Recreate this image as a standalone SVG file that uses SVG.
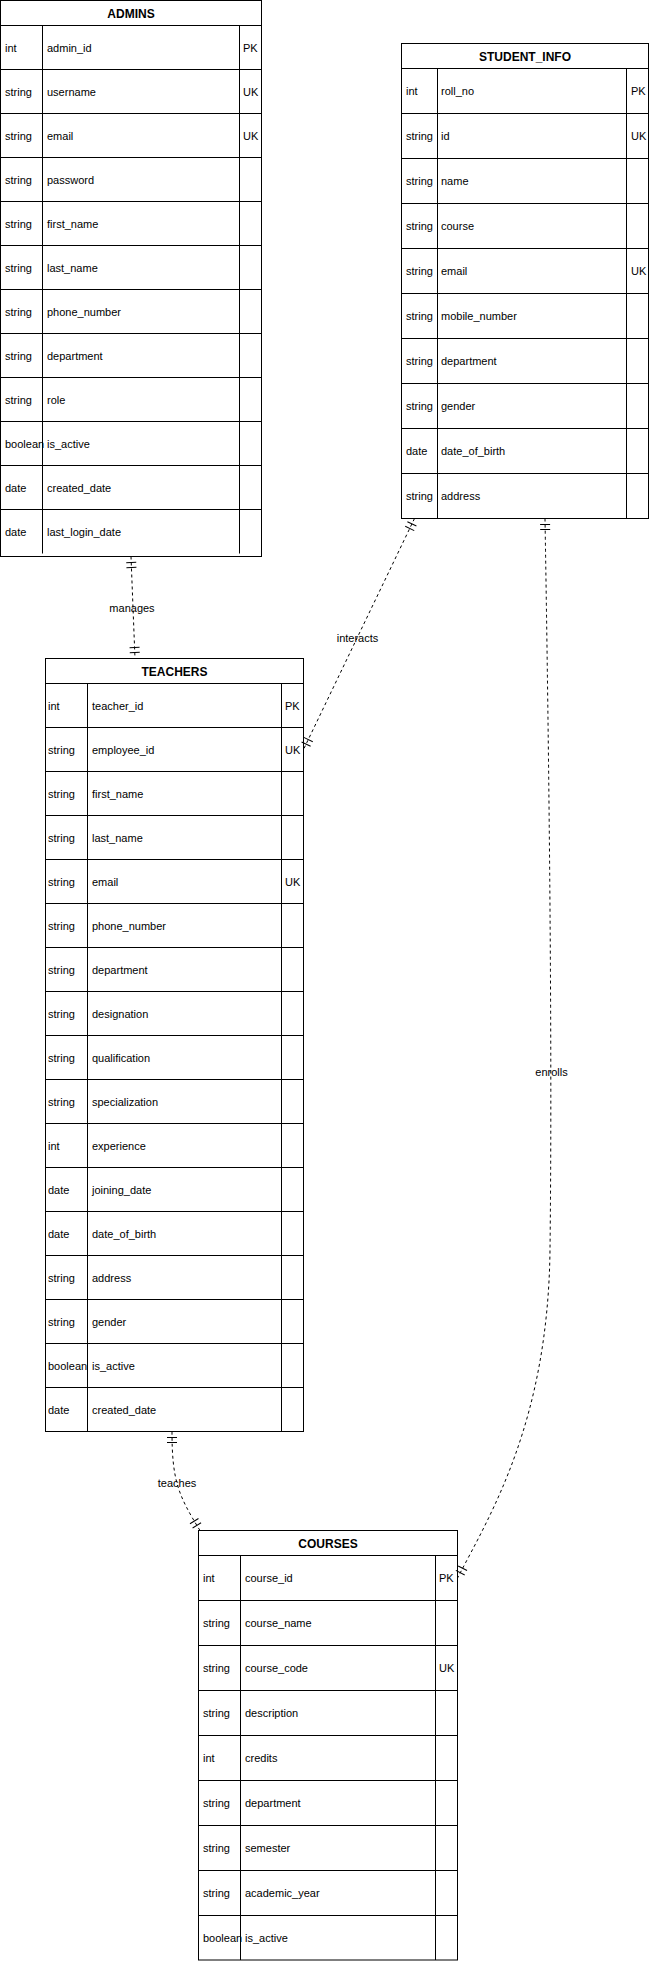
<svg xmlns="http://www.w3.org/2000/svg" width="649" height="1961" viewBox="0 0 649 1961">
<style>
.bg{fill:#ffffff}
.box{fill:#ffffff;stroke:#000000;stroke-width:1}
.ln{stroke:#000000;stroke-width:1;fill:none}
.t{font-family:"Liberation Sans",Arial,sans-serif;font-size:11px;fill:#000000}
.h{font-family:"Liberation Sans",Arial,sans-serif;font-size:12px;font-weight:bold;fill:#000000;text-anchor:middle}
.e{stroke:#000000;stroke-width:1;fill:none;stroke-dasharray:3 3;marker-start:url(#one);marker-end:url(#one)}
.lbl{font-family:"Liberation Sans",Arial,sans-serif;font-size:11px;fill:#000000;text-anchor:middle}
</style>
<defs>
<marker id="one" markerUnits="userSpaceOnUse" markerWidth="14" markerHeight="12" refX="12" refY="6" orient="auto-start-reverse" overflow="visible">
<path d="M1 1 L1 11 M6 1 L6 11" stroke="#000000" stroke-width="1" fill="none"/>
</marker>
</defs>
<rect class="bg" x="0" y="0" width="649" height="1961"/>

<g id="admins">
<rect class="box" x="0.5" y="0.5" width="261" height="556"/>
<path class="ln" d="M0.5 25.5H261.5 M0.5 69.5H261.5 M0.5 113.5H261.5 M0.5 157.5H261.5 M0.5 201.5H261.5 M0.5 245.5H261.5 M0.5 289.5H261.5 M0.5 333.5H261.5 M0.5 377.5H261.5 M0.5 421.5H261.5 M0.5 465.5H261.5 M0.5 509.5H261.5 M42.5 25.5V553.5 M239.5 25.5V553.5"/>
<text class="h" x="131" y="17.5">ADMINS</text>
<text class="t" x="5" y="51.5">int</text><text class="t" x="47" y="51.5">admin_id</text><text class="t" x="243" y="51.5">PK</text>
<text class="t" x="5" y="95.5">string</text><text class="t" x="47" y="95.5">username</text><text class="t" x="243" y="95.5">UK</text>
<text class="t" x="5" y="139.5">string</text><text class="t" x="47" y="139.5">email</text><text class="t" x="243" y="139.5">UK</text>
<text class="t" x="5" y="183.5">string</text><text class="t" x="47" y="183.5">password</text>
<text class="t" x="5" y="227.5">string</text><text class="t" x="47" y="227.5">first_name</text>
<text class="t" x="5" y="271.5">string</text><text class="t" x="47" y="271.5">last_name</text>
<text class="t" x="5" y="315.5">string</text><text class="t" x="47" y="315.5">phone_number</text>
<text class="t" x="5" y="359.5">string</text><text class="t" x="47" y="359.5">department</text>
<text class="t" x="5" y="403.5">string</text><text class="t" x="47" y="403.5">role</text>
<text class="t" x="5" y="447.5">boolean</text><text class="t" x="47" y="447.5">is_active</text>
<text class="t" x="5" y="491.5">date</text><text class="t" x="47" y="491.5">created_date</text>
<text class="t" x="5" y="535.5">date</text><text class="t" x="47" y="535.5">last_login_date</text>
</g>

<g id="student_info">
<rect class="box" x="401.5" y="43.5" width="247" height="475"/>
<path class="ln" d="M401.5 68.5H648.5 M401.5 113.5H648.5 M401.5 158.5H648.5 M401.5 203.5H648.5 M401.5 248.5H648.5 M401.5 293.5H648.5 M401.5 338.5H648.5 M401.5 383.5H648.5 M401.5 428.5H648.5 M401.5 473.5H648.5 M437.5 68.5V518.5 M626.5 68.5V518.5"/>
<text class="h" x="525" y="60.5">STUDENT_INFO</text>
<text class="t" x="406" y="95">int</text><text class="t" x="441" y="95">roll_no</text><text class="t" x="631" y="95">PK</text>
<text class="t" x="406" y="140">string</text><text class="t" x="441" y="140">id</text><text class="t" x="631" y="140">UK</text>
<text class="t" x="406" y="185">string</text><text class="t" x="441" y="185">name</text>
<text class="t" x="406" y="230">string</text><text class="t" x="441" y="230">course</text>
<text class="t" x="406" y="275">string</text><text class="t" x="441" y="275">email</text><text class="t" x="631" y="275">UK</text>
<text class="t" x="406" y="320">string</text><text class="t" x="441" y="320">mobile_number</text>
<text class="t" x="406" y="365">string</text><text class="t" x="441" y="365">department</text>
<text class="t" x="406" y="410">string</text><text class="t" x="441" y="410">gender</text>
<text class="t" x="406" y="455">date</text><text class="t" x="441" y="455">date_of_birth</text>
<text class="t" x="406" y="500">string</text><text class="t" x="441" y="500">address</text>
</g>

<g id="teachers">
<rect class="box" x="45.5" y="658.5" width="258" height="773"/>
<path class="ln" d="M45.5 683.5H303.5 M45.5 727.5H303.5 M45.5 771.5H303.5 M45.5 815.5H303.5 M45.5 859.5H303.5 M45.5 903.5H303.5 M45.5 947.5H303.5 M45.5 991.5H303.5 M45.5 1035.5H303.5 M45.5 1079.5H303.5 M45.5 1123.5H303.5 M45.5 1167.5H303.5 M45.5 1211.5H303.5 M45.5 1255.5H303.5 M45.5 1299.5H303.5 M45.5 1343.5H303.5 M45.5 1387.5H303.5 M87.5 683.5V1431.5 M281.5 683.5V1431.5"/>
<text class="h" x="174.5" y="675.5">TEACHERS</text>
<text class="t" x="48" y="709.5">int</text><text class="t" x="92" y="709.5">teacher_id</text><text class="t" x="285" y="709.5">PK</text>
<text class="t" x="48" y="753.5">string</text><text class="t" x="92" y="753.5">employee_id</text><text class="t" x="285" y="753.5">UK</text>
<text class="t" x="48" y="797.5">string</text><text class="t" x="92" y="797.5">first_name</text>
<text class="t" x="48" y="841.5">string</text><text class="t" x="92" y="841.5">last_name</text>
<text class="t" x="48" y="885.5">string</text><text class="t" x="92" y="885.5">email</text><text class="t" x="285" y="885.5">UK</text>
<text class="t" x="48" y="929.5">string</text><text class="t" x="92" y="929.5">phone_number</text>
<text class="t" x="48" y="973.5">string</text><text class="t" x="92" y="973.5">department</text>
<text class="t" x="48" y="1017.5">string</text><text class="t" x="92" y="1017.5">designation</text>
<text class="t" x="48" y="1061.5">string</text><text class="t" x="92" y="1061.5">qualification</text>
<text class="t" x="48" y="1105.5">string</text><text class="t" x="92" y="1105.5">specialization</text>
<text class="t" x="48" y="1149.5">int</text><text class="t" x="92" y="1149.5">experience</text>
<text class="t" x="48" y="1193.5">date</text><text class="t" x="92" y="1193.5">joining_date</text>
<text class="t" x="48" y="1237.5">date</text><text class="t" x="92" y="1237.5">date_of_birth</text>
<text class="t" x="48" y="1281.5">string</text><text class="t" x="92" y="1281.5">address</text>
<text class="t" x="48" y="1325.5">string</text><text class="t" x="92" y="1325.5">gender</text>
<text class="t" x="48" y="1369.5">boolean</text><text class="t" x="92" y="1369.5">is_active</text>
<text class="t" x="48" y="1413.5">date</text><text class="t" x="92" y="1413.5">created_date</text>
</g>

<g id="courses">
<rect class="box" x="198.5" y="1530.5" width="259" height="429.5"/>
<path class="ln" d="M198.5 1555.5H457.5 M198.5 1600.5H457.5 M198.5 1645.5H457.5 M198.5 1690.5H457.5 M198.5 1735.5H457.5 M198.5 1780.5H457.5 M198.5 1825.5H457.5 M198.5 1870.5H457.5 M198.5 1915.5H457.5 M240.5 1555.5V1960 M435.5 1555.5V1960"/>
<text class="h" x="328" y="1547.5">COURSES</text>
<text class="t" x="203" y="1582">int</text><text class="t" x="245" y="1582">course_id</text><text class="t" x="439" y="1582">PK</text>
<text class="t" x="203" y="1627">string</text><text class="t" x="245" y="1627">course_name</text>
<text class="t" x="203" y="1672">string</text><text class="t" x="245" y="1672">course_code</text><text class="t" x="439" y="1672">UK</text>
<text class="t" x="203" y="1717">string</text><text class="t" x="245" y="1717">description</text>
<text class="t" x="203" y="1762">int</text><text class="t" x="245" y="1762">credits</text>
<text class="t" x="203" y="1807">string</text><text class="t" x="245" y="1807">department</text>
<text class="t" x="203" y="1852">string</text><text class="t" x="245" y="1852">semester</text>
<text class="t" x="203" y="1897">string</text><text class="t" x="245" y="1897">academic_year</text>
<text class="t" x="203" y="1942">boolean</text><text class="t" x="245" y="1942">is_active</text>
</g>

<g id="connectors">
<path class="e" d="M131 556.5 L135 658.5"/>
<text class="lbl" x="132" y="612">manages</text>
<path class="e" d="M414.5 518.5 L303.5 749.5"/>
<text class="lbl" x="357.5" y="641.5">interacts</text>
<path class="e" d="M545 518.5 Q553 1000 550 1250 C548 1420 492 1512 457.5 1578"/>
<text class="lbl" x="551.5" y="1075.5">enrolls</text>
<path class="e" d="M172 1431.5 C172 1480 178 1495 200 1530.5"/>
<text class="lbl" x="177" y="1487">teaches</text>
</g>
</svg>
